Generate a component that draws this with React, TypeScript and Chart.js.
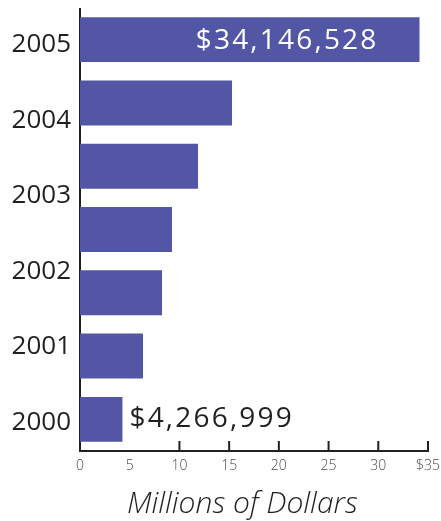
import React, { useEffect, useRef } from "react";
import { Chart, registerables } from "chart.js";

Chart.register(...registerables);

const categories = ["2005", "2004", "2003", "2002", "2001", "2000b", "2000"];
const values = [34.146528, 15.29, 11.87, 9.25, 8.25, 6.34, 4.266999];
const valueLabels = ["$34,146,528", "", "", "", "", "", "$4,266,999"];
const yearLabels = ["2005", "2004", "2003", "2002", "2001", "2000"];
const xTickValues = [0, 5, 10, 15, 20, 25, 30, 35];
const axisTitle = "Millions of Dollars   ";

const BAR = "#5256a4";
const INK = "#231f20";
const FONT = "'Open Sans', sans-serif";

const innerTicks = {
  id: "innerTicks",
  afterDraw(chart: any) {
    const x = chart.scales.x;
    const ctx = chart.ctx;
    ctx.save();
    ctx.strokeStyle = INK;
    ctx.lineWidth = 2;
    x.ticks.forEach((t: any) => {
      if (t.value < 10) return;
      const px = x.getPixelForValue(t.value);
      ctx.beginPath();
      ctx.moveTo(px, x.top);
      ctx.lineTo(px, x.top - 10);
      ctx.stroke();
    });
    ctx.restore();
  },
};

const valueLabelPlugin = {
  id: "valueLabels",
  afterDatasetsDraw(chart: any) {
    const ctx = chart.ctx;
    const meta = chart.getDatasetMeta(0);
    ctx.save();
    ctx.font = `400 28px ${FONT}`;
    ctx.textBaseline = "middle";
    (ctx as any).letterSpacing = "2.2px";
    meta.data.forEach((bar: any, i: number) => {
      const txt = valueLabels[i];
      if (!txt) return;
      if (values[i] > 20) {
        ctx.fillStyle = "#ffffff";
        ctx.textAlign = "right";
        ctx.fillText(txt, bar.x - 41, bar.y + 1);
      } else {
        ctx.fillStyle = INK;
        ctx.textAlign = "left";
        ctx.fillText(txt, bar.x + 7, bar.y);
      }
    });
    (ctx as any).letterSpacing = "0px";
    ctx.restore();
  },
};

export default function App() {
  const ref = useRef<HTMLCanvasElement | null>(null);
  useEffect(() => {
    if (!ref.current) return;
    const chart = new Chart(ref.current, {
      type: "bar",
      data: {
        labels: categories,
        datasets: [
          {
            data: values,
            backgroundColor: BAR,
            borderWidth: 0,
            barPercentage: 0.71,
            categoryPercentage: 1,
            yAxisID: "y",
          },
        ],
      },
      options: {
        indexAxis: "y",
        animation: false,
        responsive: false,
        devicePixelRatio: 1,
        layout: { padding: { top: 0, right: 13, left: 0, bottom: 0 } },
        plugins: {
          legend: { display: false },
          tooltip: { enabled: false },
        },
        scales: {
          y: {
            type: "category",
            display: false,
          },
          years: {
            type: "linear",
            position: "left",
            reverse: true,
            offset: false,
            min: -0.483,
            max: 5.377,
            afterBuildTicks: (scale: any) => {
              scale.ticks = yearLabels.map((_, i) => ({ value: i }));
            },
            afterFit: (scale: any) => {
              scale.width = 72;
              scale.paddingTop = 0;
              scale.paddingBottom = 0;
            },
            grid: { display: false, drawTicks: false, offset: false },
            border: { display: true, color: INK, width: 2 },
            ticks: {
              padding: 9,
              color: INK,
              font: { family: FONT, size: 26 },
              callback: (v: any) => yearLabels[v] ?? "",
            },
          },
          x: {
            type: "linear",
            min: 0,
            max: 35,
            afterBuildTicks: (scale: any) => {
              scale.ticks = xTickValues.map((v) => ({ value: v }));
            },
            afterFit: (scale: any) => {
              scale.height = 70;
              scale.paddingLeft = 0;
              scale.paddingRight = 0;
            },
            grid: { display: false, drawTicks: false },
            border: { display: true, color: INK, width: 2 },
            ticks: {
              padding: 7,
              color: "#4a4a4a",
              maxRotation: 0,
              autoSkip: false,
              font: { family: FONT, size: 14, weight: "300" },
              callback: (v: any) => (v === 35 ? "$35" : String(v)),
            },
            title: {
              display: true,
              text: axisTitle,
              color: INK,
              padding: { top: 0, bottom: 0 },
              font: { family: FONT, size: 30, style: "italic", weight: "300", lineHeight: 1.1 },
            },
          },
        },
      },
      plugins: [innerTicks, valueLabelPlugin],
    });
    return () => chart.destroy();
  }, []);
  return (
    <div style={{ position: "absolute", left: 8, top: 8, width: 433, height: 513 }}>
      <canvas ref={ref} width={433} height={513} />
    </div>
  );
}
